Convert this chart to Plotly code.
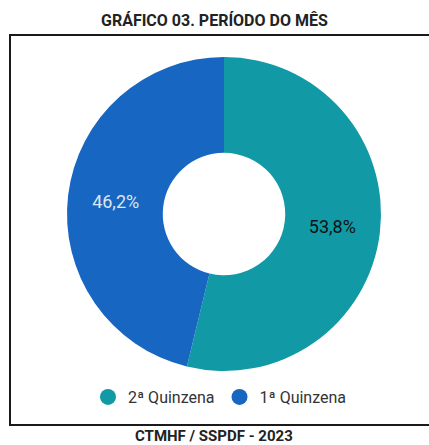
import plotly.graph_objects as go

labels = ["2ª Quinzena", "1ª Quinzena"]
values = [53.8, 46.2]
colors = ["#1199a5", "#1766c2"]
text_colors = ["#111111", "#dde6f2"]
title = "GRÁFICO 03. PERÍODO DO MÊS"
footer = "CTMHF / SSPDF - 2023"

W, H = 429, 445
texts = [f"{v:.1f}%".replace(".", ",") for v in values]

fig = go.Figure()
fig.add_trace(go.Pie(
    labels=labels, values=values, text=texts, texttemplate="%{text}",
    textposition="inside", insidetextorientation="horizontal",
    marker=dict(colors=colors, line=dict(width=0)),
    textfont=dict(color=text_colors, size=18, family="Roboto"),
    hole=0.39, sort=False, direction="clockwise", rotation=0,
    showlegend=False, hoverinfo="label+percent",
    domain=dict(x=[67 / W, 381 / W], y=[1 - 371 / H, 1 - 57 / H]),
))
for lab, col in zip(labels, colors):
    fig.add_trace(go.Scatter(
        x=[None], y=[None], mode="markers", name=lab,
        marker=dict(symbol="circle", size=16, color=col),
    ))

fig.update_layout(
    width=W, height=H, margin=dict(l=0, r=0, t=0, b=0),
    paper_bgcolor="white", plot_bgcolor="white",
    font=dict(family="Roboto", color="#222"),
    xaxis=dict(visible=False), yaxis=dict(visible=False),
    legend=dict(orientation="h", x=220 / W, xanchor="center", y=1 - 397 / H, yanchor="middle",
                font=dict(size=16, color="#333"), itemsizing="trace", itemwidth=30,
                bgcolor="rgba(0,0,0,0)"),
    shapes=[dict(type="rect", xref="paper", yref="paper", x0=10 / W, x1=1.02,
                 y0=1 - 425 / H, y1=1 - 35 / H, line=dict(color="#1a1a1a", width=2))],
    annotations=[
        dict(text=f"<b>{title}</b>", x=214 / W, y=1 - 20 / H, xref="paper", yref="paper",
             showarrow=False, font=dict(size=16, color="#222", family="Roboto"), yanchor="middle"),
        dict(text=f"<b>{footer}</b>", x=214 / W, y=1 - 436 / H, xref="paper", yref="paper",
             showarrow=False, font=dict(size=15, color="#222", family="Roboto"), yanchor="middle"),
    ],
)
fig.write_html("out.html", config={"displayModeBar": False},
               post_script="document.body.style.margin='0';document.body.style.overflow='hidden';")
